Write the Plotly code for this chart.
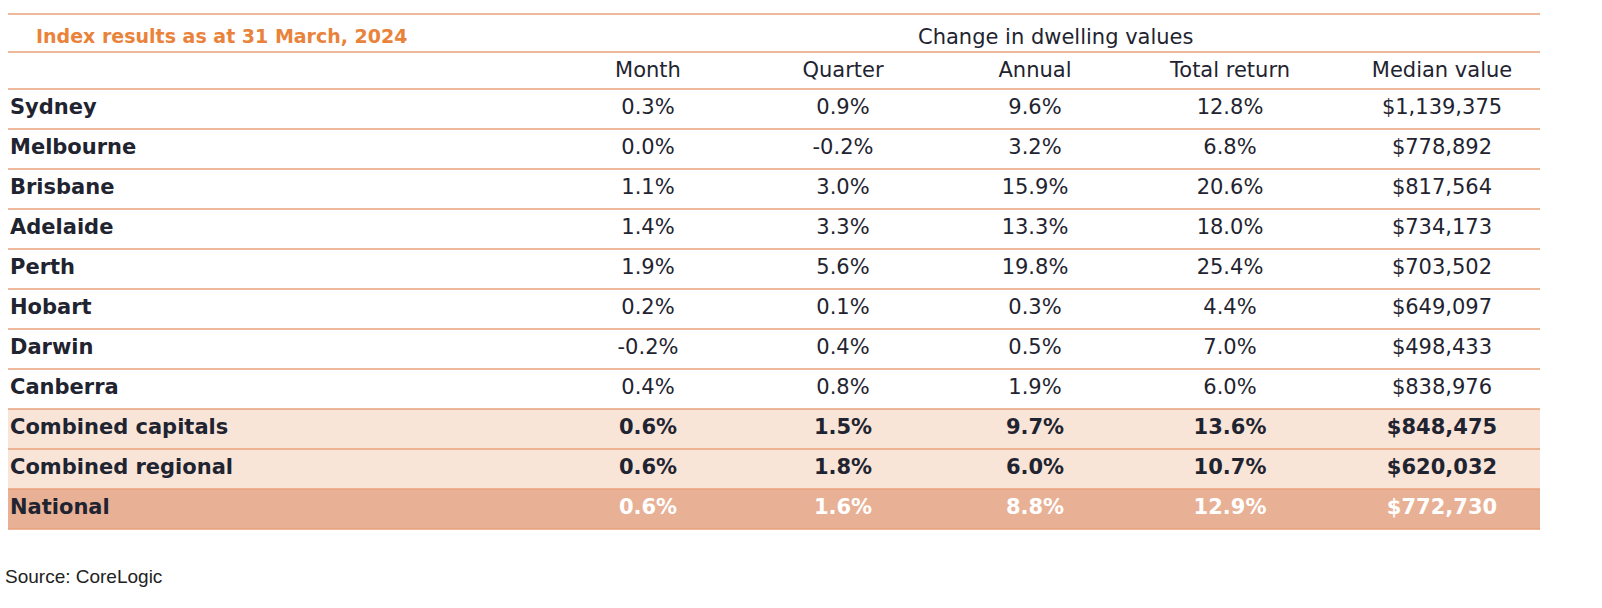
import plotly.graph_objects as go

title = "Index results as at 31 March, 2024"
group_header = "Change in dwelling values"
columns = ["Month", "Quarter", "Annual", "Total return", "Median value"]
regions = ["Sydney", "Melbourne", "Brisbane", "Adelaide", "Perth", "Hobart", "Darwin",
           "Canberra", "Combined capitals", "Combined regional", "National"]
month = ["0.3%", "0.0%", "1.1%", "1.4%", "1.9%", "0.2%", "-0.2%", "0.4%", "0.6%", "0.6%", "0.6%"]
quarter = ["0.9%", "-0.2%", "3.0%", "3.3%", "5.6%", "0.1%", "0.4%", "0.8%", "1.5%", "1.8%", "1.6%"]
annual = ["9.6%", "3.2%", "15.9%", "13.3%", "19.8%", "0.3%", "0.5%", "1.9%", "9.7%", "6.0%", "8.8%"]
total_return = ["12.8%", "6.8%", "20.6%", "18.0%", "25.4%", "4.4%", "7.0%", "6.0%", "13.6%", "10.7%", "12.9%"]
median_value = ["$1,139,375", "$778,892", "$817,564", "$734,173", "$703,502", "$649,097",
                "$498,433", "$838,976", "$848,475", "$620,032", "$772,730"]
source = "Source: CoreLogic"

W, H = 1602, 608
col_x = [648, 843, 1035, 1230, 1442]
row_y0, row_h = 109, 40
row_y = [row_y0 + i * row_h for i in range(len(regions))]
n_plain = 8
line_col = "#e9a07a"
light_bg = "#f8e5d8"
dark_bg = "#e8b196"
ink = "#1f2430"
F = "DejaVu Sans"

fig = go.Figure()
shapes = []
for i in range(n_plain, len(regions)):
    shapes.append(dict(type="rect", x0=8, x1=1540, y0=row_y[i] - 20, y1=row_y[i] + 20,
                       fillcolor=dark_bg if i == len(regions) - 1 else light_bg,
                       line_width=0, layer="below"))
ys = [14, 52, 89] + [r + 20 for r in row_y]
for y in ys:
    shapes.append(dict(type="line", x0=8, x1=1540, y0=y, y1=y, line=dict(color=line_col, width=1.5)))

def fmt(v, i):
    return "<b>%s</b>" % v if i >= n_plain else v

def colors(i):
    return "white" if i == len(regions) - 1 else ink

fig.add_trace(go.Scatter(x=[10] * len(regions), y=row_y, mode="text", text=["<b>%s</b>" % r for r in regions],
                         textposition="middle right", hoverinfo="skip",
                         textfont=dict(family=F, size=21, color=ink)))
for cx, vals in zip(col_x, [month, quarter, annual, total_return, median_value]):
    fig.add_trace(go.Scatter(x=[cx] * len(vals), y=row_y, mode="text",
                             text=[fmt(v, i) for i, v in enumerate(vals)],
                             textposition="middle center", hoverinfo="skip",
                             textfont=dict(family=F, size=21, color=[colors(i) for i in range(len(vals))])))
fig.add_trace(go.Scatter(x=col_x, y=[72] * len(columns), mode="text", text=columns,
                         textposition="middle center", hoverinfo="skip",
                         textfont=dict(family=F, size=21, color=ink)))

annotations = [
    dict(x=34, y=36, text="<b>%s</b>" % title, showarrow=False, xanchor="left", yanchor="middle",
         font=dict(family=F, size=19, color="#e9833c"), xref="x", yref="y"),
    dict(x=1055, y=37, text=group_header, showarrow=False, xanchor="center", yanchor="middle",
         font=dict(family=F, size=21, color=ink), xref="x", yref="y"),
    dict(x=3, y=576, text=source, showarrow=False, xanchor="left", yanchor="middle",
         font=dict(family="Liberation Sans", size=19, color="#222"), xref="x", yref="y"),
]

fig.update_layout(width=W, height=H, margin=dict(l=0, r=0, t=0, b=0),
                  paper_bgcolor="white", plot_bgcolor="white", showlegend=False,
                  shapes=shapes, annotations=annotations,
                  xaxis=dict(range=[0, W], visible=False, fixedrange=True),
                  yaxis=dict(range=[H, 0], visible=False, fixedrange=True))
fig.write_html("out.html", config={"displayModeBar": False},
               post_script="document.body.style.margin='0';document.body.style.overflow='hidden';")
